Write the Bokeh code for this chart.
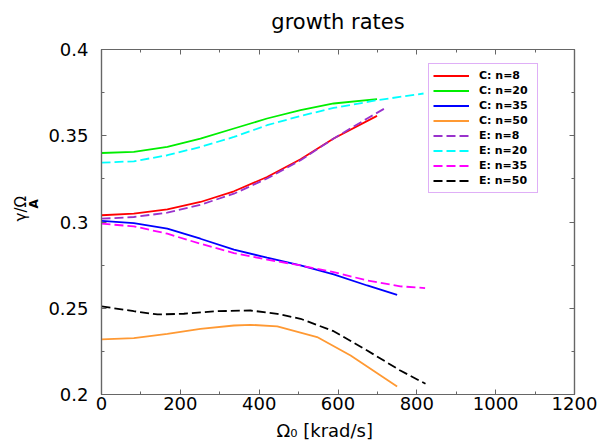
from bokeh.plotting import figure
from bokeh.models import (LinearAxis, Legend, LegendItem, Range1d, Title,
                          FixedTicker, CustomJSTickFormatter)
from bokeh.embed import file_html
from bokeh.resources import INLINE

# ---- data ----
c8_x = [0, 82, 167, 251, 336, 420, 505, 589, 699]
c8_y = [0.3039, 0.3048, 0.3073, 0.3116, 0.3178, 0.3261, 0.3364, 0.3484, 0.3615]
e8_x = [0, 82, 167, 251, 336, 420, 505, 589, 674, 725]
e8_y = [0.3019, 0.3029, 0.3054, 0.3100, 0.3164, 0.3252, 0.3358, 0.3484, 0.3600, 0.3667]
c20_x = [0, 82, 167, 251, 336, 420, 505, 589, 699]
c20_y = [0.3400, 0.3406, 0.3435, 0.3483, 0.3542, 0.3600, 0.3648, 0.3687, 0.3712]
e20_x = [0, 82, 167, 251, 336, 420, 505, 589, 699, 817]
e20_y = [0.3344, 0.3352, 0.3387, 0.3435, 0.3493, 0.3561, 0.3615, 0.3661, 0.3706, 0.3745]
c35_x = [0, 82, 167, 251, 336, 420, 505, 589, 674, 750]
c35_y = [0.3006, 0.2994, 0.2961, 0.2903, 0.2840, 0.2793, 0.2748, 0.2696, 0.2632, 0.2578]
e35_x = [0, 82, 167, 251, 336, 420, 505, 589, 674, 758, 821]
e35_y = [0.2990, 0.2975, 0.2932, 0.2874, 0.2820, 0.2782, 0.2748, 0.2710, 0.2661, 0.2627, 0.2617]
c50_x = [0, 82, 167, 251, 336, 378, 446, 547, 632, 750]
c50_y = [0.2319, 0.2327, 0.2352, 0.2381, 0.2400, 0.2404, 0.2395, 0.2333, 0.2226, 0.2046]
e50_x = [0, 82, 142, 209, 294, 378, 446, 505, 589, 674, 758, 822]
e50_y = [0.2511, 0.2483, 0.2464, 0.2468, 0.2483, 0.2487, 0.2468, 0.2439, 0.2367, 0.2255, 0.2139, 0.2062]

series_labels = ["C: n=8", "C: n=20", "C: n=35", "C: n=50",
                 "E: n=8", "E: n=20", "E: n=35", "E: n=50"]
x_ticks = [0, 200, 400, 600, 800, 1000, 1200]
x_minor = [100, 300, 500, 700, 900, 1100]
y_ticks = [0.2, 0.25, 0.3, 0.35, 0.4]
y_minor = [0.225, 0.275, 0.325, 0.375]

FONT = "DejaVu Sans"
AX = "#666666"

p = figure(width=598, height=446, output_backend="svg", toolbar_location=None,
           x_range=Range1d(0, 1200), y_range=Range1d(0.2, 0.4),
           min_border_left=101, min_border_right=24, min_border_top=49,
           min_border_bottom=52)
p.xgrid.visible = False
p.ygrid.visible = False
p.outline_line_color = AX
p.outline_line_width = 1.2
p.background_fill_color = "white"
p.border_fill_color = "white"

fmt_num = "var s = tick.toFixed(3); if (s.indexOf('.')>=0){s = s.replace(/0+$/,'').replace(/\\.$/,'');} return s;"

def style_axis(ax, ticks, minor, show_labels, standoff):
    ax.ticker = FixedTicker(ticks=ticks, minor_ticks=minor)
    ax.axis_line_color = AX
    ax.axis_line_width = 1.2
    ax.major_tick_line_color = AX
    ax.minor_tick_line_color = AX
    ax.major_tick_in = 5
    ax.major_tick_out = 0
    ax.minor_tick_in = 3
    ax.minor_tick_out = 0
    ax.major_label_standoff = standoff
    ax.major_label_text_font = FONT
    ax.major_label_text_color = "black"
    ax.major_label_text_font_size = "18px"
    if show_labels:
        ax.formatter = CustomJSTickFormatter(code=fmt_num)
    else:
        ax.formatter = CustomJSTickFormatter(code="return ' ';")
        ax.major_label_text_font_size = "4px"

style_axis(p.xaxis[0], x_ticks, x_minor, True, 2)
style_axis(p.yaxis[0], y_ticks, y_minor, True, 13)
top_ax = LinearAxis()
right_ax = LinearAxis()
style_axis(top_ax, x_ticks, x_minor, False, 0)
style_axis(right_ax, y_ticks, y_minor, False, 0)
p.add_layout(top_ax, "above")
p.add_layout(right_ax, "right")

LW = 1.8
DASH = "9 4"
r_c8 = p.line(c8_x, c8_y, line_color="#ff0000", line_width=LW)
r_c20 = p.line(c20_x, c20_y, line_color="#00ee00", line_width=LW)
r_c35 = p.line(c35_x, c35_y, line_color="#0000ff", line_width=LW)
r_c50 = p.line(c50_x, c50_y, line_color="#ff9933", line_width=LW)
r_e8 = p.line(e8_x, e8_y, line_color="#9932cc", line_width=LW, line_dash=DASH)
r_e20 = p.line(e20_x, e20_y, line_color="#00ffff", line_width=LW, line_dash=DASH)
r_e35 = p.line(e35_x, e35_y, line_color="#ff00ff", line_width=LW, line_dash=DASH)
r_e50 = p.line(e50_x, e50_y, line_color="#000000", line_width=LW, line_dash=DASH)
rends = [r_c8, r_c20, r_c35, r_c50, r_e8, r_e20, r_e35, r_e50]

legend = Legend(items=[LegendItem(label=l, renderers=[r]) for l, r in zip(series_labels, rends)],
                location=(327, 201), orientation="vertical",
                label_text_font=FONT, label_text_font_style="bold",
                label_text_font_size="11px", label_text_color="black",
                label_height=15, glyph_height=15, glyph_width=36, label_width=54,
                label_standoff=10, spacing=0, padding=4, margin=0,
                border_line_color="#bf5fef", border_line_width=1.5,
                background_fill_color="white", background_fill_alpha=1.0)
p.add_layout(legend)

# title
p.title.text = "growth rates"
p.title.align = "center"
p.title.text_font = FONT
p.title.text_font_size = "21px"
p.title.text_font_style = "normal"
p.title.text_color = "black"
p.title.standoff = 15

# x axis label (below the tick labels)
p.add_layout(Title(text="Ω₀ [krad/s]", text_font=FONT, text_font_size="18px",
                   text_font_style="normal", text_color="black",
                   align="left", offset=175, standoff=11), "below")

# y axis label: subscript first (closer to the axis), then γ/Ω
p.add_layout(Title(text="A", text_font=FONT, text_font_size="12px",
                   text_font_style="bold", text_color="black",
                   align="left", offset=186, standoff=10), "left")
p.add_layout(Title(text="γ/Ω", text_font=FONT, text_font_size="15px",
                   text_font_style="normal", text_color="black",
                   align="left", offset=173, standoff=-20), "left")

open("out.html", "w").write(file_html(p, INLINE))
